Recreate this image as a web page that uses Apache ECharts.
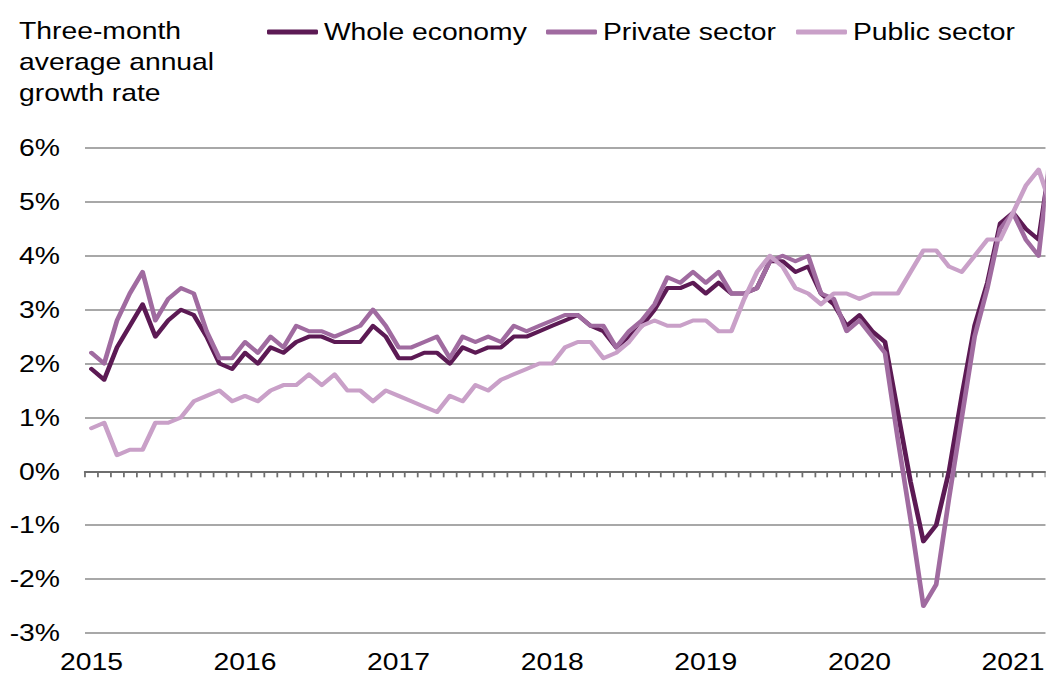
<!DOCTYPE html>
<html>
<head>
<meta charset="utf-8">
<script src="https://cdn.jsdelivr.net/npm/echarts@6/dist/echarts.min.js"></script>
<style>
  html, body { margin: 0; padding: 0; background: #ffffff; overflow: hidden; }
  #frame { width: 1046px; height: 678px; overflow: hidden; position: relative; }
  #chart { height: 678px; transform-origin: 0 0; position: absolute; left: 0; top: 0; overflow: hidden; }
</style>
</head>
<body>
<div id="frame"><div id="chart"></div></div>
<script>
// Monthly observations, January 2015 to April 2021
const years = ['2015', '2016', '2017', '2018', '2019', '2020', '2021'];
const monthsInLastYear = 4;

const seriesNames = ['Whole economy', 'Private sector', 'Public sector'];

// Three-month average annual growth rate, %
const wholeEconomy = [
  1.9, 1.7, 2.3, 2.7, 3.1, 2.5, 2.8, 3.0, 2.9, 2.5, 2.0, 1.9,
  2.2, 2.0, 2.3, 2.2, 2.4, 2.5, 2.5, 2.4, 2.4, 2.4, 2.7, 2.5,
  2.1, 2.1, 2.2, 2.2, 2.0, 2.3, 2.2, 2.3, 2.3, 2.5, 2.5, 2.6,
  2.7, 2.8, 2.9, 2.7, 2.6, 2.3, 2.5, 2.7, 3.0, 3.4, 3.4, 3.5,
  3.3, 3.5, 3.3, 3.3, 3.4, 3.9, 3.9, 3.7, 3.8, 3.3, 3.1, 2.7,
  2.9, 2.6, 2.4, 1.1, -0.2, -1.3, -1.0, 0.0, 1.4, 2.7, 3.5, 4.6,
  4.8, 4.5, 4.3, 5.9
];
const privateSector = [
  2.2, 2.0, 2.8, 3.3, 3.7, 2.8, 3.2, 3.4, 3.3, 2.6, 2.1, 2.1,
  2.4, 2.2, 2.5, 2.3, 2.7, 2.6, 2.6, 2.5, 2.6, 2.7, 3.0, 2.7,
  2.3, 2.3, 2.4, 2.5, 2.1, 2.5, 2.4, 2.5, 2.4, 2.7, 2.6, 2.7,
  2.8, 2.9, 2.9, 2.7, 2.7, 2.3, 2.6, 2.8, 3.1, 3.6, 3.5, 3.7,
  3.5, 3.7, 3.3, 3.3, 3.4, 3.9, 4.0, 3.9, 4.0, 3.3, 3.2, 2.6,
  2.8, 2.5, 2.2, 0.6, -0.9, -2.5, -2.1, -0.5, 1.0, 2.5, 3.4, 4.5,
  4.8, 4.3, 4.0, 6.1
];
const publicSector = [
  0.8, 0.9, 0.3, 0.4, 0.4, 0.9, 0.9, 1.0, 1.3, 1.4, 1.5, 1.3,
  1.4, 1.3, 1.5, 1.6, 1.6, 1.8, 1.6, 1.8, 1.5, 1.5, 1.3, 1.5,
  1.4, 1.3, 1.2, 1.1, 1.4, 1.3, 1.6, 1.5, 1.7, 1.8, 1.9, 2.0,
  2.0, 2.3, 2.4, 2.4, 2.1, 2.2, 2.4, 2.7, 2.8, 2.7, 2.7, 2.8,
  2.8, 2.6, 2.6, 3.2, 3.7, 4.0, 3.8, 3.4, 3.3, 3.1, 3.3, 3.3,
  3.2, 3.3, 3.3, 3.3, 3.7, 4.1, 4.1, 3.8, 3.7, 4.0, 4.3, 4.3,
  4.8, 5.3, 5.6, 4.9
];

const yTicks = { min: -3, max: 6, step: 1 };

// Category list "YYYY-MM"; only January carries a visible year label
const categories = [];
years.forEach((y, yi) => {
  const n = yi === years.length - 1 ? monthsInLastYear : 12;
  for (let m = 1; m <= n; m++) categories.push(y + '-' + String(m).padStart(2, '0'));
});

// The chart is laid out on a narrower canvas and widened with a horizontal
// stretch, which gives the broad lettering of the published figure.
const SX = 1.18;
const W = 1046, H = 678;
const hx = (x) => x / SX;   // horizontal page pixels -> layout pixels

const el = document.getElementById('chart');
el.style.width = hx(W) + 'px';
el.style.transform = 'scaleX(' + SX + ')';

const FONT = '"Liberation Sans", Arial, sans-serif';
const colors = ['#5c1a54', '#a06ba0', '#c9a0c8'];
const textBase = { fontFamily: FONT, fontSize: 24, color: '#000000' };

const chart = echarts.init(el, null, { renderer: 'svg', width: hx(W), height: H });

function legendFor(name, left) {
  return {
    data: [name],
    left: hx(left),
    top: 20,
    icon: 'roundRect',
    itemWidth: hx(51),
    itemHeight: 5,
    padding: 0,
    textStyle: textBase,
    selectedMode: false
  };
}

// The last month runs past the right edge of the frame, so the plot is
// sized by its month width rather than by the frame.
const bandWidth = 12.8;   // page pixels per month
const option = {
  animation: false,
  backgroundColor: '#ffffff',
  color: colors,
  title: {
    text: 'Three-month\naverage annual\ngrowth rate',
    left: hx(19),
    top: 15,
    padding: 0,
    textStyle: Object.assign({}, textBase, { fontWeight: 'normal', lineHeight: 31 })
  },
  legend: [
    legendFor(seriesNames[0], 267),
    legendFor(seriesNames[1], 546),
    legendFor(seriesNames[2], 796)
  ],
  grid: {
    left: hx(85),
    top: 148,
    width: hx(bandWidth * categories.length),
    bottom: 45,
    containLabel: false,
    outerBoundsMode: 'none'
  },
  xAxis: [
    {
      // year labels along the bottom edge
      type: 'category',
      data: categories,
      position: 'bottom',
      boundaryGap: true,
      axisLine: { show: false, onZero: false },
      axisTick: { show: false },
      axisLabel: {
        interval: (i) => i % 12 === 0,
        formatter: (v) => v.slice(0, 4),
        margin: 17,
        fontFamily: FONT,
        fontSize: 24,
        color: '#000000'
      },
      splitLine: { show: false }
    },
    {
      // zero line with monthly tick marks
      type: 'category',
      data: categories,
      position: 'bottom',
      boundaryGap: true,
      axisLine: { show: true, onZero: true, lineStyle: { color: '#6e6e6e', width: 2 } },
      axisTick: { show: true, interval: 0, length: 6, lineStyle: { color: '#6e6e6e', width: 1.5 } },
      axisLabel: { show: false },
      splitLine: { show: false }
    }
  ],
  yAxis: {
    type: 'value',
    min: yTicks.min,
    max: yTicks.max,
    interval: yTicks.step,
    axisLine: { show: false },
    axisTick: { show: false },
    axisLabel: {
      formatter: '{value}%',
      margin: hx(25),
      fontFamily: FONT,
      fontSize: 24,
      color: '#000000'
    },
    splitLine: { show: true, lineStyle: { color: '#a8a8a8', width: 2 } }
  },
  series: [
    { name: seriesNames[0], data: wholeEconomy },
    { name: seriesNames[1], data: privateSector },
    { name: seriesNames[2], data: publicSector }
  ].map((s, i) => ({
    name: s.name,
    type: 'line',
    xAxisIndex: 0,
    data: s.data,
    symbol: 'none',
    smooth: false,
    lineStyle: { width: 4, color: colors[i], cap: 'round', join: 'round' },
    itemStyle: { color: colors[i] },
    z: 3 + i
  }))
};

chart.setOption(option);
</script>
</body>
</html>
